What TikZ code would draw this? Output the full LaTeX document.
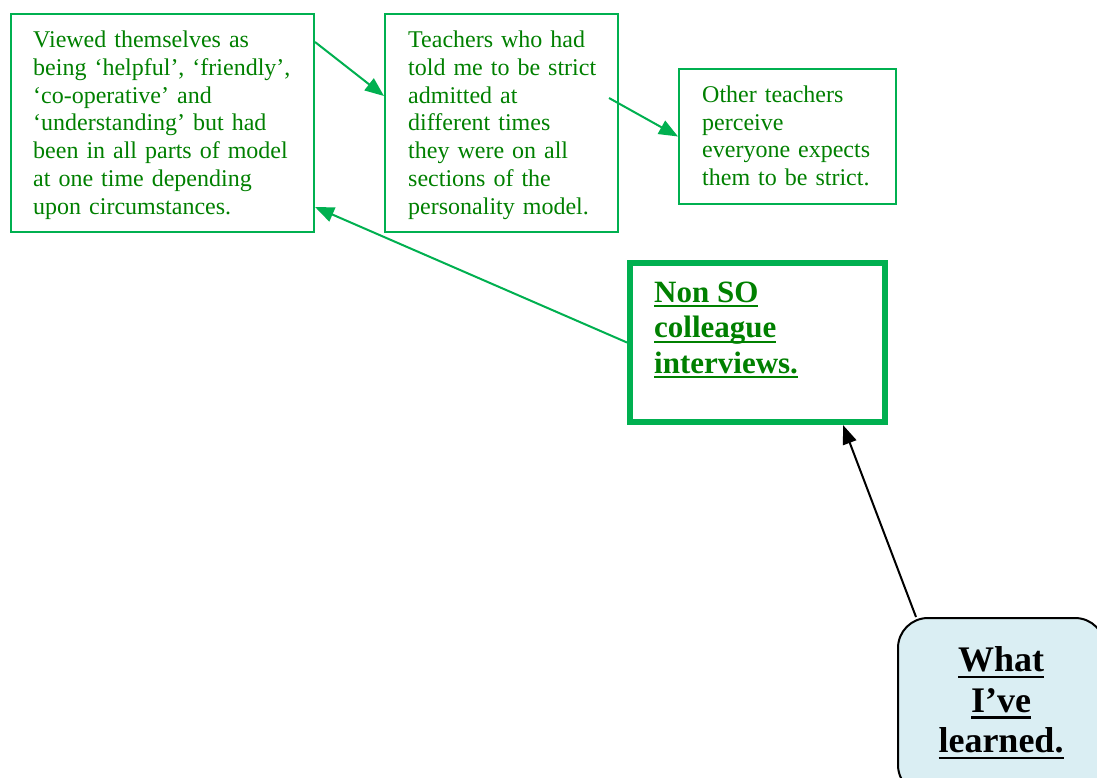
\documentclass[tikz,border=0pt]{standalone}
\usepackage{fontspec}
\setmainfont{Liberation Serif}
\usetikzlibrary{arrows.meta,calc}
\definecolor{boxgreen}{HTML}{00B050}
\definecolor{textgreen}{HTML}{008000}
\definecolor{paleblue}{HTML}{DAEEF3}
% underlines at a fixed distance below the baseline
\newcommand{\underruleS}[1]{\setbox0=\hbox{#1}\rlap{\rule[-5pt]{\wd0}{2pt}}\box0}
\newcommand{\underruleL}[1]{\setbox0=\hbox{#1}\rlap{\rule[-6.3pt]{\wd0}{2.5pt}}\box0}

\begin{document}
\begin{tikzpicture}[x=1pt,y=-1pt,
  frame/.style={draw=boxgreen, line width=2pt, inner sep=0pt},
  keyframe/.style={draw=boxgreen, line width=6pt, inner sep=0pt},
  note/.style={inner sep=0pt, anchor=north west, align=left, text=textgreen,
    font=\fontsize{24}{27.8}\selectfont},
  link/.style={draw=boxgreen, line width=2pt, -{Triangle[length=19pt,width=15pt]}},
  pointer/.style={draw=black, line width=2pt, -{Triangle[length=19pt,width=14pt]}}]

\useasboundingbox (0,0) rectangle (1097,778);
\clip (0,0) rectangle (1097,778);
\fill[white] (0,0) rectangle (1097,778);

% findings boxes
\node[frame, minimum width=303pt, minimum height=218pt] (A) at (162.5,123) {};
\node[note, text width=265pt] (At) at (33,30.7)
  {Viewed themselves as\\ being ‘helpful’, ‘friendly’,\\ ‘co-operative’ and\\ ‘understanding’ but had\\ been in all parts of model\\ at one time depending\\ upon circumstances.};

\node[frame, minimum width=233pt, minimum height=218pt] (B) at (501.5,123) {};
\node[note, text width=205pt] (Bt) at (408,30.7)
  {Teachers who had\\ told me to be strict\\ admitted at\\ different times\\ they were on all\\ sections of the\\ personality model.};

\node[frame, minimum width=217pt, minimum height=135pt] (C) at (787.5,136.5) {};
\node[note, text width=190pt] (Ct) at (702,85.5)
  {Other teachers\\ perceive\\ everyone expects\\ them to be strict.};

% source box
\node[keyframe, minimum width=255pt, minimum height=159pt] (D) at (757.5,342.5) {};
\node[inner sep=0pt, anchor=north west, align=left, text=textgreen,
  font=\bfseries\fontsize{31}{35.5}\selectfont] (Dt) at (654,281.6)
  {\underruleS{Non SO}\\ \underruleS{colleague}\\ \underruleS{interviews.}};

% summary box
\node[draw=black, line width=2pt, fill=paleblue, rounded corners=30pt,
  minimum width=207pt, minimum height=177pt, inner sep=0pt] (E) at (1001.5,706.5) {};
\node[inner sep=0pt, anchor=north, align=center,
  font=\bfseries\fontsize{36}{40.5}\selectfont] (Et) at (1001,646.7)
  {\underruleL{What}\\ \underruleL{I’ve}\\ \underruleL{learned.}};

% connectors
\draw[link] ($(A.north east)+(0,29)$) -- ($(B.north west)+(0,83)$);
\draw[link] ($(B.north east)+(-10,85)$) -- (C.west);
\draw[link] (D.west) -- ($(A.south east)+(0,-26)$);
\draw[pointer] ($(E.north west)+(19,0)$) -- ($(D.south east)+(-45,0)$);
\end{tikzpicture}
\end{document}
